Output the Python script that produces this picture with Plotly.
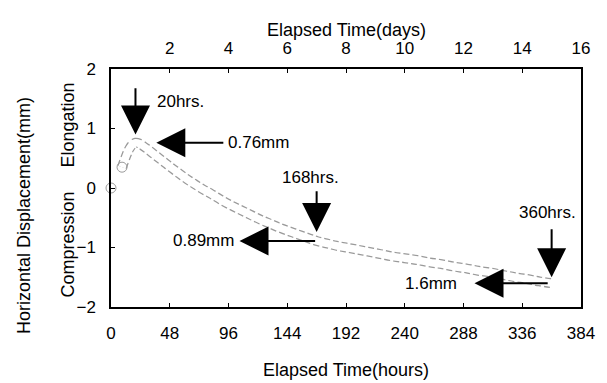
import plotly.graph_objects as go

# Measured displacement history
hours = [0, 3, 6, 9, 12, 15, 18, 20, 23, 26, 30, 35, 40, 45, 50, 56, 62, 68, 75, 82,
         90, 98, 106, 114, 122, 130, 138, 146, 154, 161, 168, 176, 184, 192, 200,
         210, 220, 230, 240, 250, 260, 270, 280, 290, 300, 310, 320, 330, 340, 350, 360]
disp_mm = [0.0, 0.02, 0.15, 0.35, 0.52, 0.66, 0.74, 0.76, 0.75, 0.71, 0.65, 0.57, 0.49,
           0.41, 0.33, 0.24, 0.15, 0.07, -0.02, -0.10, -0.20, -0.29, -0.37, -0.45, -0.53,
           -0.60, -0.67, -0.73, -0.79, -0.84, -0.89, -0.93, -0.97, -1.00, -1.03, -1.07,
           -1.11, -1.15, -1.18, -1.21, -1.25, -1.28, -1.32, -1.35, -1.39, -1.42, -1.46,
           -1.50, -1.53, -1.57, -1.60]

hour_ticks = [0, 48, 96, 144, 192, 240, 288, 336, 384]
day_ticks = [2, 4, 6, 8, 10, 12, 14, 16]
y_ticks = [-2, -1, 0, 1, 2]

# Key points called out on the chart
peak_h, peak_mm = 20, 0.76
mid_h, mid_mm = 168, -0.89
end_h, end_mm = 360, -1.6

FONT = "Liberation Sans, Arial, sans-serif"

fig = go.Figure()
# measured record drawn as a pale hollow band with dashed edges
band_start = 3
fig.add_trace(go.Scatter(
    x=hours[band_start:], y=disp_mm[band_start:], mode="lines",
    line=dict(color="#9a9a9a", width=10, dash="6px,3px", shape="spline"),
    showlegend=False, hoverinfo="skip",
))
fig.add_trace(go.Scatter(
    x=hours[band_start:], y=disp_mm[band_start:], mode="lines",
    line=dict(color="white", width=7.5, shape="spline"),
    showlegend=False, hoverinfo="skip",
))
# first readings shown as individual hollow circles
first_idx = [0, 3]
fig.add_trace(go.Scatter(
    x=[hours[i] for i in first_idx], y=[disp_mm[i] for i in first_idx],
    mode="markers", cliponaxis=False,
    marker=dict(symbol="circle-open", size=10, color="#9a9a9a", line=dict(width=1)),
    showlegend=False,
))
# invisible trace to activate the top (days) axis
fig.add_trace(go.Scatter(x=[0, 16], y=[None, None], xaxis="x2", yaxis="y",
                         showlegend=False, hoverinfo="skip"))

axis_common = dict(showgrid=False, zeroline=False, showline=True, linecolor="black",
                   linewidth=1.5, ticks="inside", ticklen=4, tickcolor="black",
                   tickfont=dict(family=FONT, size=17, color="black"))

fig.update_layout(
    width=607, height=383,
    margin=dict(l=111, r=13, t=69, b=76),
    paper_bgcolor="white", plot_bgcolor="white",
    xaxis=dict(range=[0, 384], tickvals=hour_ticks, mirror=False,
               ticklabelstandoff=10, **axis_common),
    xaxis2=dict(range=[0, 16], tickvals=day_ticks, overlaying="x", side="top",
                ticklabelstandoff=6, **axis_common),
    yaxis=dict(range=[-2, 2], tickvals=y_ticks, mirror=True,
               ticklabelstandoff=10, **axis_common),
    font=dict(family=FONT, size=17, color="black"),
)

annotations = [
    dict(text="Elapsed Time(days)", xref="paper", yref="paper", x=0.5, y=1.0,
         yshift=51, showarrow=False, font=dict(size=18)),
    dict(text="Elapsed Time(hours)", xref="paper", yref="paper", x=0.5, y=0.0,
         yshift=-75, showarrow=False, font=dict(size=18)),
    dict(text="Horizontal Displacement(mm)", xref="paper", yref="paper", x=0.0,
         y=0.5, xshift=-99, yshift=-28, textangle=-90, showarrow=False,
         font=dict(size=18)),
    dict(text="Elongation", xref="paper", yref="y", x=0.0, y=1.05, xshift=-55,
         textangle=-90, showarrow=False, font=dict(size=18)),
    dict(text="Compression", xref="paper", yref="y", x=0.0, y=-0.95, xshift=-55,
         textangle=-90, showarrow=False, font=dict(size=18)),
    # labels
    dict(text="20hrs.", x=57, y=1.45, showarrow=False),
    dict(text="%.2fmm" % peak_mm, x=94, y=peak_mm, xanchor="left", showarrow=False),
    dict(text="%dhrs." % mid_h, x=163, y=0.17, showarrow=False),
    dict(text="%.2fmm" % abs(mid_mm), x=102, y=mid_mm, xanchor="right", showarrow=False),
    dict(text="%dhrs." % end_h, x=357, y=-0.42, showarrow=False),
    dict(text="%.1fmm" % abs(end_mm), x=284, y=end_mm, xanchor="right", showarrow=False),
]

arrow_style = dict(text="", showarrow=True, arrowhead=2, arrowsize=2.9, arrowwidth=2,
                   arrowcolor="black", axref="x", ayref="y", standoff=0)
arrows = [
    dict(x=peak_h, y=0.90, ax=peak_h, ay=1.70),
    dict(x=37, y=peak_mm, ax=93, ay=peak_mm),
    dict(x=mid_h, y=-0.74, ax=mid_h, ay=-0.03),
    dict(x=105, y=mid_mm, ax=mid_h, ay=mid_mm),
    dict(x=end_h, y=-1.50, ax=end_h, ay=-0.67),
    dict(x=297, y=end_mm, ax=358, ay=end_mm),
]
for a in arrows:
    annotations.append({**arrow_style, **a})

fig.update_layout(annotations=annotations)
fig.write_html("out.html")
